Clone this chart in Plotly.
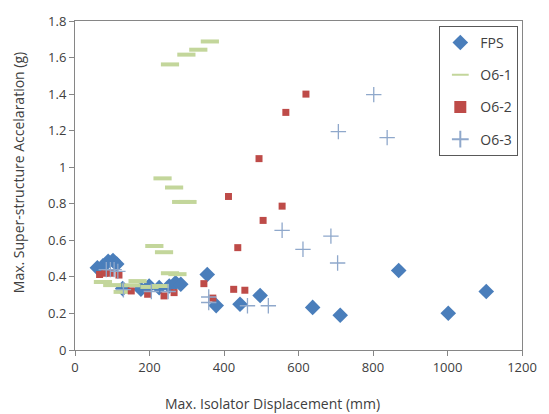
import plotly.graph_objects as go

# ---- data ----
fps_x = [60, 75, 89, 102, 112, 128, 177, 199, 226, 253, 270, 284,
         355, 379, 443, 497, 638, 712, 869, 1002, 1104]
fps_y = [0.45, 0.46, 0.485, 0.49, 0.47, 0.336, 0.332, 0.35, 0.341, 0.35, 0.368, 0.36,
         0.413, 0.243, 0.25, 0.298, 0.233, 0.19, 0.435, 0.201, 0.32]

o61_x = [75, 100, 128, 151, 168, 200, 228, 213, 239, 255, 275,
         235, 266, 285, 302, 255, 299, 331, 362]
o61_y = [0.372, 0.355, 0.318, 0.354, 0.377, 0.345, 0.35, 0.569, 0.535, 0.42, 0.415,
         0.939, 0.889, 0.81, 0.81, 1.5625, 1.616, 1.643, 1.688]

o62_x = [66, 80, 95, 118, 151, 195, 239, 266, 346, 370, 412, 426, 437, 456,
         494, 505, 556, 566, 620]
o62_y = [0.413, 0.42, 0.42, 0.41, 0.323, 0.305, 0.296, 0.314, 0.363, 0.284, 0.84,
         0.332, 0.56, 0.327, 1.047, 0.709, 0.787, 1.30, 1.40]

o63_x = [84, 95, 105, 115, 130, 205, 250, 359, 359, 463, 519,
         556, 612, 687, 705, 707, 802, 838]
o63_y = [0.44, 0.44, 0.44, 0.43, 0.33, 0.32, 0.32, 0.29, 0.26, 0.242, 0.242,
         0.655, 0.551, 0.623, 0.476, 1.195, 1.397, 1.162]

x_ticks = [0, 200, 400, 600, 800, 1000, 1200]
y_ticks = [0, 0.2, 0.4, 0.6, 0.8, 1, 1.2, 1.4, 1.6, 1.8]
y_tick_text = ["0", "0.2", "0.4", "0.6", "0.8", "1", "1.2", "1.4", "1.6", "1.8"]

FONT = "Open Sans"
TXT = "#404040"
AX = "#868686"

fig = go.Figure()
fig.add_trace(go.Scatter(x=fps_x, y=fps_y, mode="markers", name="FPS", legendgroup="a",
                         marker=dict(symbol="diamond", size=12, color="#4A7EBB")))
fig.add_trace(go.Scatter(x=o61_x, y=o61_y, mode="markers", name="O6-1", legendgroup="b",
                         marker=dict(symbol="line-ew", size=13,
                                     line=dict(width=4, color="#C3D69B"))))
fig.add_trace(go.Scatter(x=o62_x, y=o62_y, mode="markers", name="O6-2", legendgroup="c",
                         marker=dict(symbol="square", size=7, color="#BE4B48")))
fig.add_trace(go.Scatter(x=o63_x, y=o63_y, mode="markers", name="O6-3", legendgroup="d",
                         marker=dict(symbol="cross-thin", size=11,
                                     line=dict(width=1.3, color="#8FA8CB"))))

fig.update_layout(
    width=549, height=414,
    margin=dict(l=75, r=23, t=16, b=64),
    paper_bgcolor="white", plot_bgcolor="white",
    font=dict(family=FONT, size=13, color=TXT),
    showlegend=True,
    legend=dict(x=0.815, y=0.985, xanchor="left", yanchor="top",
                bordercolor="#595959", borderwidth=1, bgcolor="white",
                font=dict(size=14, color=TXT, family=FONT),
                traceorder="grouped", tracegroupgap=11, itemwidth=30,
                itemsizing="constant"),
    xaxis=dict(range=[0, 1200], tickvals=x_ticks, showgrid=False, zeroline=False,
               showline=True, linecolor=AX, linewidth=1, mirror=True,
               ticks="outside", ticklen=5, tickcolor=AX,
               tickfont=dict(size=13, color=TXT, family=FONT)),
    yaxis=dict(range=[0, 1.8], tickvals=y_ticks, ticktext=y_tick_text, showgrid=False,
               zeroline=False, showline=True, linecolor=AX, linewidth=1, mirror=True,
               ticks="outside", ticklen=5, tickcolor=AX,
               tickfont=dict(size=13, color=TXT, family=FONT)),
    annotations=[
        dict(text="Max. Isolator Displacement (mm)", xref="paper", yref="paper",
             x=(274.5 - 75) / 451, y=(350 - 404) / 334, xanchor="center", yanchor="middle",
             showarrow=False, font=dict(size=14, color=TXT, family=FONT)),
        dict(text="Max. Super-structure Accelaration (g)", xref="paper", yref="paper",
             x=(18 - 75) / 451, y=(350 - 170) / 334, xanchor="center", yanchor="middle",
             textangle=-90, showarrow=False, font=dict(size=14, color=TXT, family=FONT)),
    ],
)

fig.write_html("out.html")
